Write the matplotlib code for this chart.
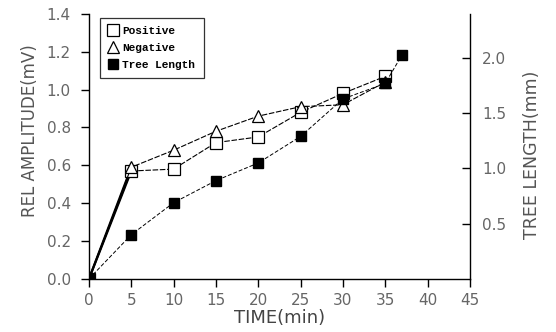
import matplotlib
matplotlib.use("Agg")
import matplotlib.pyplot as plt

time = [0, 5, 10, 15, 20, 25, 30, 35]
positive = [0.0, 0.57, 0.58, 0.72, 0.75, 0.88, 0.98, 1.07]
negative = [0.0, 0.59, 0.68, 0.78, 0.86, 0.91, 0.92, 1.04]
tree_time = [0, 5, 10, 15, 20, 25, 30, 35, 37]
tree_length = [0.0, 0.40, 0.69, 0.89, 1.05, 1.29, 1.63, 1.77, 2.03]

x_ticks = [0, 5, 10, 15, 20, 25, 30, 35, 40, 45]
left_ticks = [0.0, 0.2, 0.4, 0.6, 0.8, 1.0, 1.2, 1.4]
right_ticks = [0.5, 1.0, 1.5, 2.0]

tick_color = "#666666"
fig = plt.figure(figsize=(5.56, 3.32), dpi=100)
ax = fig.add_axes([0.160, 0.160, 0.685, 0.798])
ax2 = ax.twinx()

ls = (0, (5, 1.5))
ax.plot(time, positive, color="black", lw=0.8, linestyle=ls, marker="s",
        markersize=8, markerfacecolor="white", markeredgecolor="black",
        markeredgewidth=0.9, label="Positive", zorder=3)
ax.plot(time, negative, color="black", lw=0.8, linestyle=ls, marker="^",
        markersize=8, markerfacecolor="white", markeredgecolor="black",
        markeredgewidth=0.9, label="Negative", zorder=3)
ax.plot(time[:2], positive[:2], color="black", lw=1.6, zorder=2)
ax.plot(time[:2], negative[:2], color="black", lw=1.6, zorder=2)
l3, = ax2.plot(tree_time, tree_length, color="black", lw=0.7, linestyle=(0, (4, 2)),
               marker="s", markersize=7, markerfacecolor="black",
               markeredgecolor="black", label="Tree Length", zorder=3)

ax.set_xlim(0, 45)
ax.set_ylim(0, 1.4)
ax2.set_ylim(0, 2.4)
ax.set_xticks(x_ticks)
ax.set_yticks(left_ticks)
ax.set_yticklabels([f"{v:.1f}" for v in left_ticks])
ax2.set_yticks(right_ticks)
ax2.set_yticklabels([f"{v:.1f}" for v in right_ticks])

for a in (ax, ax2):
    a.spines["top"].set_visible(False)
    for s in a.spines.values():
        s.set_linewidth(1.0)
ax.spines["right"].set_visible(False)
ax2.spines["left"].set_visible(False)
ax2.spines["bottom"].set_visible(False)

ax.tick_params(axis="both", direction="out", length=6, width=1.0,
               labelsize=11, labelcolor=tick_color, pad=7)
ax.tick_params(axis="x", pad=4)
ax2.tick_params(axis="y", direction="in", length=6, width=1.0,
                labelsize=11, labelcolor=tick_color, pad=9)

ax.set_xlabel("TIME(min)", fontsize=13, color="#444444", labelpad=1)
ax.set_ylabel("REL AMPLITUDE(mV)", fontsize=12, color="#555555")
ax.yaxis.set_label_coords(-0.13, 0.56)
ax2.set_ylabel("TREE LENGTH(mm)", fontsize=12.5, color="#555555")
ax2.yaxis.set_label_coords(1.14, 0.47)

h1, lab1 = ax.get_legend_handles_labels()
leg = ax.legend(h1[:2] + [l3], ["Positive", "Negative", "Tree Length"],
                loc="upper left", bbox_to_anchor=(0.028, 0.985),
                prop={"family": "Liberation Mono", "weight": "bold", "size": 8},
                frameon=True, fancybox=False, handlelength=0.9,
                handletextpad=0.4, borderpad=0.75, labelspacing=0.6,
                borderaxespad=0)
for h in leg.legend_handles:
    h.set_linestyle("None")
leg.get_frame().set_edgecolor("black")
leg.get_frame().set_linewidth(0.9)

fig.savefig("out.png", dpi=100)
